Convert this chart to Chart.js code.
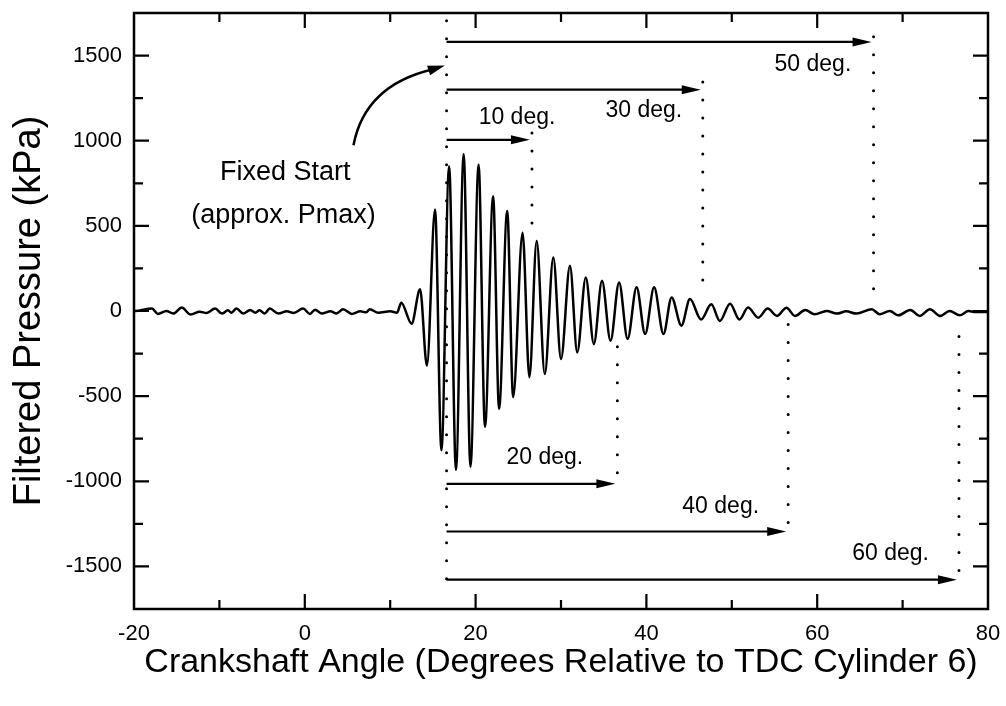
<!DOCTYPE html>
<html>
<head>
<meta charset="utf-8">
<title>Filtered Pressure</title>
<script src="https://cdn.jsdelivr.net/npm/chart.js@4.4.1/dist/chart.umd.min.js"></script>
<style>
  html, body { margin: 0; padding: 0; background: #fff; }
  #wrap { width: 1006px; height: 706px; }
</style>
</head>
<body>
<div id="wrap"><canvas id="chart"></canvas></div>
<script>
// trace: crank angle (deg) vs filtered pressure (kPa), peaks and troughs
var angle = [-20, -19.9, -17.9, -17.2, -16.2, -15.4, -14.4, -13.4, -12.3, -11.5, -10.5, -9.7, -9.0, -8.6,
  -8.0, -7.2, -6.4, -5.8, -5.3, -4.7, -4.1, -3.1, -2.1, -1.3, -0.2, 0.6, 1.2, 2.0, 3.0, 3.7, 4.5, 5.5,
  6.5, 7.2, 7.6, 8.6, 10.0, 10.8, 11.3, 12.5, 13.5, 14.3, 15.25, 16.0, 16.9, 17.7, 18.6, 19.4, 20.35,
  21.1, 22.05, 22.75, 23.7, 24.4, 25.5, 26.3, 27.15, 28.1, 29.1, 30.0, 31.05, 31.9, 32.9, 33.85, 34.8,
  35.8, 36.8, 37.8, 38.85, 39.85, 40.9, 42.0, 42.95, 44.1, 45.1, 46.4, 47.6, 48.6, 49.8, 50.9, 51.9,
  53.1, 54.2, 55.3, 56.4, 57.4, 58.6, 59.7, 61.1, 62.3, 63.4, 64.6, 66.4, 67.3, 68.5, 69.5, 70.9, 72.0,
  73.2, 74.4, 75.5, 76.7, 77.7, 78.5, 80];
var pressure = [0, 0, 14, -17, 0, -15, 20, -20, -4, -12, 14, -15, 4, -10,
  14, -15, 6, -10, 4, -15, 14, -15, -2, -12, 14, -17, 8, -15, -2, -15, 10, -17,
  -2, -8, 10, -10, -2, -10, 49, -75, 127, -321, 596, -818, 850, -934, 922, -915, 860,
  -681, 674, -574, 587, -506, 460, -389, 411, -370, 314, -282, 265, -243, 197, -194, 177,
  -174, 168, -164, 139, -135, 139, -135, 80, -86, 70, -50, 39, -58, 42, -50, 20,
  -39, 14, -29, 19, -29, 6, -19, 0, -15, -2, -15, 10, -19, 0, -25, 6, -29,
  10, -29, 0, -25, 0, -6, -6];

var xLabels = [-20, 0, 20, 40, 60, 80];
var yLabels = [-1500, -1000, -500, 0, 500, 1000, 1500];

// window annotations
var startAngle = 16.6;
var startTop = 1705, startBottom = -1640;
var windowEnd = [26.6, 36.6, 46.6, 56.6, 66.6, 76.6];
var windowName = ['10 deg.', '20 deg.', '30 deg.', '40 deg.', '50 deg.', '60 deg.'];
var arrowLevel = [1005, -1015, 1300, -1295, 1580, -1578];
var dotTop = [1045, -210, 1345, -80, 1610, -150];
var dotBottom = [500, -1050, 80, -1340, 30, -1620];
var nameAngle = [24.85, 28.1, 39.7, 48.7, 59.5, 68.6];
var nameLevel = [1096, -900, 1139, -1187, 1412, -1463];

var FONT = "'Liberation Sans', Arial, Helvetica, sans-serif";

var points = angle.map(function (a, i) { return { x: a, y: pressure[i] }; });

function arrowHead(ctx, tx, ty, dx, dy, len, half) {
  var l = Math.sqrt(dx * dx + dy * dy);
  dx /= l; dy /= l;
  var bx = tx - dx * len, by = ty - dy * len;
  ctx.beginPath();
  ctx.moveTo(tx, ty);
  ctx.lineTo(bx - dy * half, by + dx * half);
  ctx.lineTo(bx + dy * half, by - dx * half);
  ctx.closePath();
  ctx.fill();
}

var annotate = {
  id: 'annotate',
  afterDraw: function (chart) {
    var ctx = chart.ctx;
    var xs = chart.scales.x, ys = chart.scales.y;
    var a = chart.chartArea;
    ctx.save();
    ctx.strokeStyle = '#000';
    ctx.fillStyle = '#000';

    // frame
    ctx.lineWidth = 2.5;
    ctx.strokeRect(a.left, a.top, a.right - a.left, a.bottom - a.top);

    // inward ticks on all four sides
    ctx.lineWidth = 2.2;
    ctx.beginPath();
    xs.ticks.forEach(function (t) {
      if (t.value <= xs.min || t.value >= xs.max) return;
      var px = xs.getPixelForValue(t.value);
      var len = t.value % 20 === 0 ? 15 : 9;
      ctx.moveTo(px, a.bottom); ctx.lineTo(px, a.bottom - len);
      ctx.moveTo(px, a.top); ctx.lineTo(px, a.top + len);
    });
    ys.ticks.forEach(function (t) {
      if (t.value <= ys.min || t.value >= ys.max) return;
      var py = ys.getPixelForValue(t.value);
      var len = t.value % 500 === 0 ? 15 : 9;
      ctx.moveTo(a.left, py); ctx.lineTo(a.left + len, py);
      ctx.moveTo(a.right, py); ctx.lineTo(a.right - len, py);
    });
    ctx.stroke();

    // dotted guides
    ctx.lineWidth = 3;
    ctx.lineCap = 'round';
    ctx.setLineDash([0, 18]);
    ctx.beginPath();
    var sx = xs.getPixelForValue(startAngle);
    ctx.moveTo(sx, ys.getPixelForValue(startTop));
    ctx.lineTo(sx, ys.getPixelForValue(startBottom));
    windowEnd.forEach(function (e, i) {
      var px = xs.getPixelForValue(e);
      ctx.moveTo(px, ys.getPixelForValue(dotTop[i]));
      ctx.lineTo(px, ys.getPixelForValue(dotBottom[i]));
    });
    ctx.stroke();
    ctx.setLineDash([]);
    ctx.lineCap = 'butt';

    // window arrows
    ctx.lineWidth = 2.2;
    windowEnd.forEach(function (e, i) {
      var ex = xs.getPixelForValue(e);
      var py = ys.getPixelForValue(arrowLevel[i]);
      ctx.beginPath();
      ctx.moveTo(sx, py);
      ctx.lineTo(ex - 12, py);
      ctx.stroke();
      arrowHead(ctx, ex - 2, py, 1, 0, 19, 4.5);
    });

    // window labels
    ctx.font = '23px ' + FONT;
    ctx.textAlign = 'center';
    ctx.textBaseline = 'alphabetic';
    windowName.forEach(function (n, i) {
      ctx.fillText(n, xs.getPixelForValue(nameAngle[i]), ys.getPixelForValue(nameLevel[i]));
    });

    // fixed start note
    ctx.font = '27px ' + FONT;
    ctx.fillText('Fixed Start', xs.getPixelForValue(-2.3), ys.getPixelForValue(769));
    ctx.fillText('(approx. Pmax)', xs.getPixelForValue(-2.5), ys.getPixelForValue(518));

    var p0x = xs.getPixelForValue(5.7), p0y = ys.getPixelForValue(974);
    var cx = xs.getPixelForValue(7.05), cy = ys.getPixelForValue(1324);
    var p2x = xs.getPixelForValue(14.9), p2y = ys.getPixelForValue(1418);
    var tx = xs.getPixelForValue(16.4), ty = ys.getPixelForValue(1441);
    ctx.lineWidth = 2.5;
    ctx.beginPath();
    ctx.moveTo(p0x, p0y);
    ctx.quadraticCurveTo(cx, cy, p2x, p2y);
    ctx.stroke();
    arrowHead(ctx, tx, ty, tx - p2x, ty - p2y, 17, 5);

    ctx.restore();
  }
};

new Chart(document.getElementById('chart'), {
  type: 'line',
  data: {
    datasets: [{
      data: points,
      borderColor: '#000',
      borderWidth: 2.5,
      pointRadius: 0,
      fill: false,
      cubicInterpolationMode: 'monotone'
    }]
  },
  options: {
    animation: false,
    responsive: true,
    maintainAspectRatio: false,
    layout: { padding: { top: 13, right: 18, left: 0, bottom: 0 } },
    plugins: { legend: { display: false }, tooltip: { enabled: false } },
    scales: {
      x: {
        type: 'linear', min: -20, max: 80,
        grid: { display: false, drawTicks: false },
        border: { display: false },
        ticks: {
          stepSize: 10, autoSkip: false, maxRotation: 0, padding: 12, color: '#000',
          font: { family: FONT, size: 22 },
          callback: function (v) { return xLabels.indexOf(v) >= 0 ? String(v) : ''; }
        },
        title: {
          display: true, text: 'Crankshaft Angle (Degrees Relative to TDC Cylinder 6)',
          color: '#000', font: { family: FONT, size: 34 }, padding: { top: 0, bottom: 23 }
        },
        afterFit: function (s) { s.height = 97; s.paddingLeft = 0; s.paddingRight = 0; }
      },
      y: {
        min: -1750, max: 1750,
        grid: { display: false, drawTicks: false },
        border: { display: false },
        ticks: {
          stepSize: 250, autoSkip: false, padding: 12, color: '#000',
          font: { family: FONT, size: 22 },
          callback: function (v) { return yLabels.indexOf(v) >= 0 ? String(v) : ''; }
        },
        title: {
          display: true, text: 'Filtered Pressure (kPa)',
          color: '#000', font: { family: FONT, size: 38 }, padding: { top: 7, bottom: 0 }
        },
        afterFit: function (s) { s.width = 134; s.paddingTop = 0; s.paddingBottom = 0; }
      }
    }
  },
  plugins: [annotate]
});
</script>
</body>
</html>
